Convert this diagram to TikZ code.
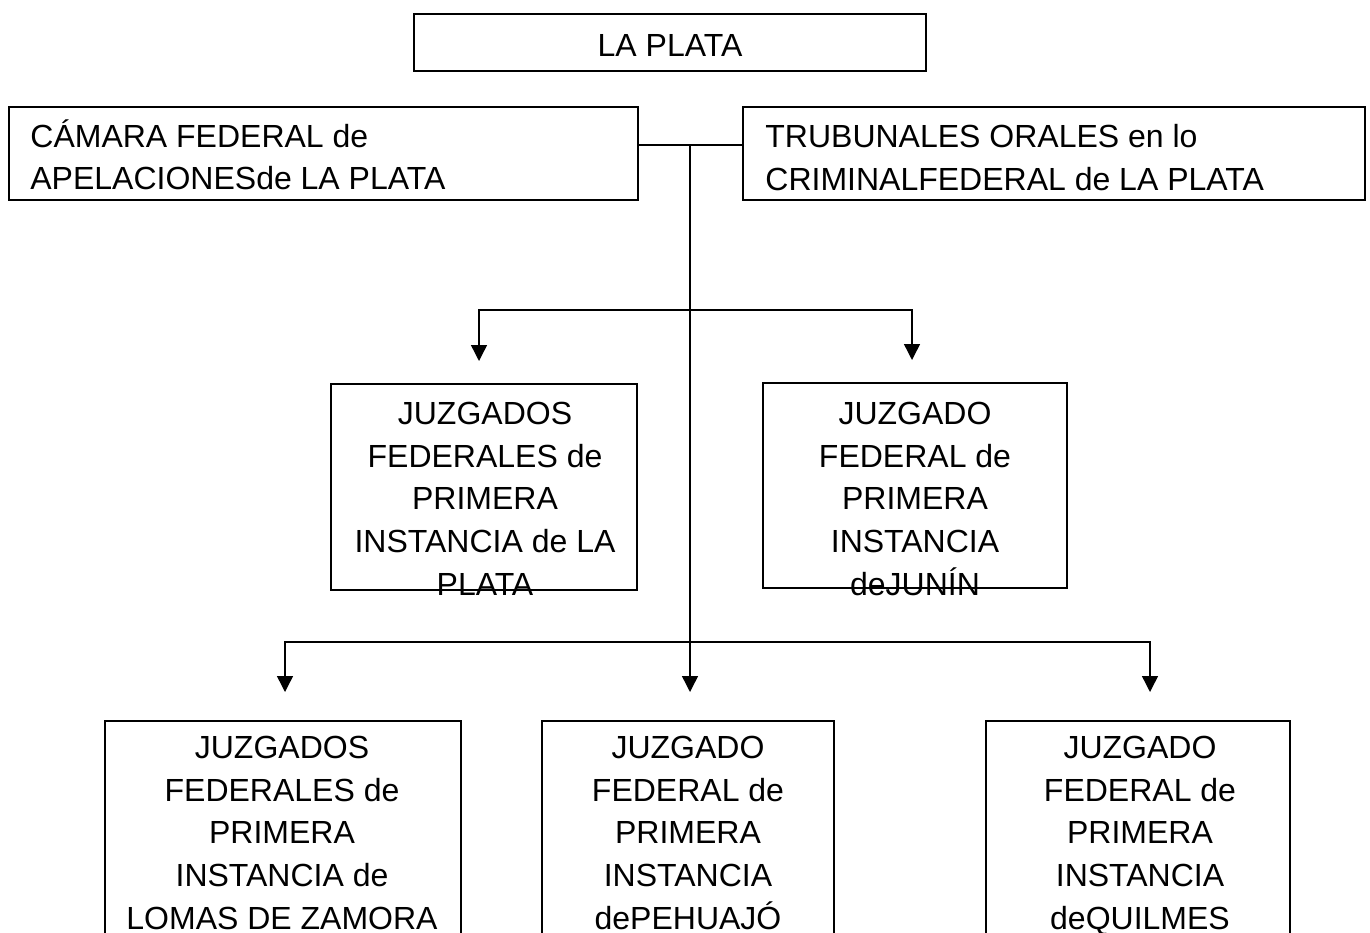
\documentclass[tikz,border=0pt]{standalone}
\usepackage{fontspec}
\setmainfont{Liberation Sans}
\usetikzlibrary{arrows.meta}

\begin{document}
\begin{tikzpicture}[x=0.5pt, y=-0.5pt,
  box/.style={draw, line width=1pt, inner sep=0pt},
  lbl/.style={inner sep=0pt, align=center, anchor=north,
              font=\fontsize{16}{21.3}\selectfont},
  link/.style={line width=0.7pt},
  arr/.style={line width=0.7pt, -{Triangle[width=8pt, length=8pt]}}
]
  \useasboundingbox (0,0) rectangle (1370,932);
  \clip (0,0) rectangle (1370,932);

  % Boxes
  \node[box, minimum width=256pt, minimum height=28.5pt] (lp) at (670,42.5) {};
  \node[box, minimum width=314.5pt, minimum height=46.5pt] (cam) at (323.5,153.5) {};
  \node[box, minimum width=311pt, minimum height=46.5pt] (tri) at (1054,153.5) {};
  \node[box, minimum width=153pt, minimum height=103pt] (jlp) at (484,487) {};
  \node[box, minimum width=152pt, minimum height=102.5pt] (jju) at (915,485.5) {};
  \node[box, minimum width=178pt, minimum height=119.5pt] (jlz) at (283,840.5) {};
  \node[box, minimum width=146pt, minimum height=119.5pt] (jpe) at (688,840.5) {};
  \node[box, minimum width=152pt, minimum height=119.5pt] (jqu) at (1138,840.5) {};

  % Labels
  \node[lbl] (lpt) at (670,34) {LA PLATA};
  \node[lbl, anchor=north west, align=left] (camt) at (30,119)
    {CÁMARA FEDERAL de\\APELACIONESde LA PLATA};
  \node[lbl, anchor=north west, align=left] (trit) at (765,124)
    {TRUBUNALES ORALES en lo\\CRIMINALFEDERAL de LA PLATA};
  \node[lbl] (jlpt) at (485,402)
    {JUZGADOS\\FEDERALES de\\PRIMERA\\INSTANCIA de LA\\PLATA};
  \node[lbl] (jjut) at (915,402)
    {JUZGADO\\FEDERAL de\\PRIMERA\\INSTANCIA\\deJUNÍN};
  \node[lbl] (jlzt) at (282,736)
    {JUZGADOS\\FEDERALES de\\PRIMERA\\INSTANCIA de\\LOMAS DE ZAMORA};
  \node[lbl] (jpet) at (688,736)
    {JUZGADO\\FEDERAL de\\PRIMERA\\INSTANCIA\\dePEHUAJÓ};
  \node[lbl] (jqut) at (1140,736)
    {JUZGADO\\FEDERAL de\\PRIMERA\\INSTANCIA\\deQUILMES};

  % Junctions
  \coordinate (j1) at (690,145);
  \coordinate (j2) at (690,310);
  \coordinate (j3) at (690,642);

  % Lines
  \draw[link] (cam.east |- j1) -- (tri.west |- j1);
  \draw[arr, shorten >=14pt] (j1) -- (j1 |- jpe.north);
  \draw[arr, shorten >=11pt] (j2) -| ([xshift=-2.5pt]jlp.north);
  \draw[arr, shorten >=11pt] (j2) -| ([xshift=-1.5pt]jju.north);
  \draw[arr, shorten >=14pt] (j3) -| ([xshift=1pt]jlz.north);
  \draw[arr, shorten >=14pt] (j3) -| ([xshift=6pt]jqu.north);
\end{tikzpicture}
\end{document}
